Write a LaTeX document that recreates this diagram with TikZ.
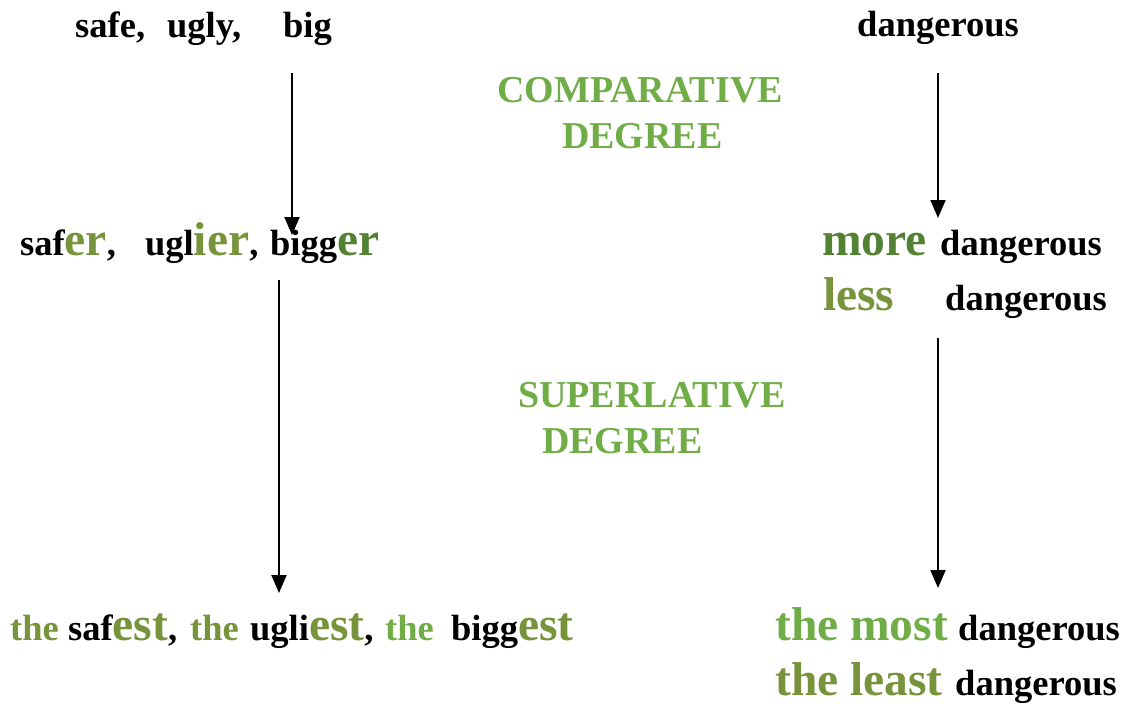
\documentclass[tikz,border=0pt]{standalone}
\usepackage{fontspec}
\setmainfont{Liberation Serif}
\usetikzlibrary{arrows.meta}
\definecolor{gbright}{HTML}{70AD47}
\definecolor{golive}{HTML}{77933C}
\definecolor{gdark}{HTML}{548235}
\newcommand{\blk}{\fontsize{36.5}{40}\selectfont}
\newcommand{\bgr}{\fontsize{47.5}{50}\selectfont}
\newcommand{\hdg}{\fontsize{38}{42}\selectfont}
\tikzset{
  txt/.style={anchor=base west, inner sep=0pt, font=\bfseries\blk},
  heading/.style={anchor=base west, inner sep=0pt, font=\bfseries\hdg, text=gbright},
  arr/.style={line width=2pt, -{Triangle[length=18pt,width=15pt]}},
}
\begin{document}
\begin{tikzpicture}[x=1pt,y=-1pt]
\useasboundingbox (0,0) rectangle (1130,704);
% top row
\node[txt] (t1) at (75,37) {safe,};
\node[txt] (t2) at (167,37) {ugly,};
\node[txt] (t3) at (283,37) {big};
\node[txt] (t4) at (857,36) {dangerous};
% headings
\node[heading] (h1) at (497,102) {COMPARATIVE};
\node[heading] (h2) at (562,148) {DEGREE};
\node[heading] (h3) at (518,407) {SUPERLATIVE};
\node[heading] (h4) at (542,453) {DEGREE};
% comparative row
\node[txt] (c1) at (20,255) {saf{\bgr\color{golive}er},};
\node[txt] (c2) at (145,255) {ugl{\bgr\color{golive}ier},};
\node[txt] (c3) at (270,255) {bigg{\bgr\color{gdark}er}};
\node[txt] (c4) at (822,255) {{\bgr\color{gdark}more}};
\node[txt] (c5) at (940,255) {dangerous};
\node[txt] (c6) at (823,310) {{\bgr\color{golive}less}};
\node[txt] (c7) at (945,310) {dangerous};
% superlative row
\node[txt] (s1) at (10,640) {{\color{golive}the}};
\node[txt] (s2) at (68,640) {saf{\bgr\color{golive}est},};
\node[txt] (s3) at (190,640) {{\color{golive}the}};
\node[txt] (s4) at (250,640) {ugli{\bgr\color{golive}est},};
\node[txt] (s5) at (385,640) {{\color{gbright}the}};
\node[txt] (s6) at (451,640) {bigg{\bgr\color{golive}est}};
\node[txt] (s7) at (775,640) {{\bgr\color{gbright}the most}};
\node[txt] (s8) at (958,640) {dangerous};
\node[txt] (s9) at (775,695) {{\bgr\color{golive}the least}};
\node[txt] (s10) at (955,695) {dangerous};
% arrows
\coordinate (a1s) at (292,73);
\coordinate (a1e) at (292,235);
\coordinate (a2s) at (938,73);
\coordinate (a2e) at (938,218);
\coordinate (a3s) at (279,280);
\coordinate (a3e) at (279,593);
\coordinate (a4s) at (938,338);
\coordinate (a4e) at (938,588);
\draw[arr] (a1s) -- (a1e);
\draw[arr] (a2s) -- (a2e);
\draw[arr] (a3s) -- (a3e);
\draw[arr] (a4s) -- (a4e);
\end{tikzpicture}
\end{document}
